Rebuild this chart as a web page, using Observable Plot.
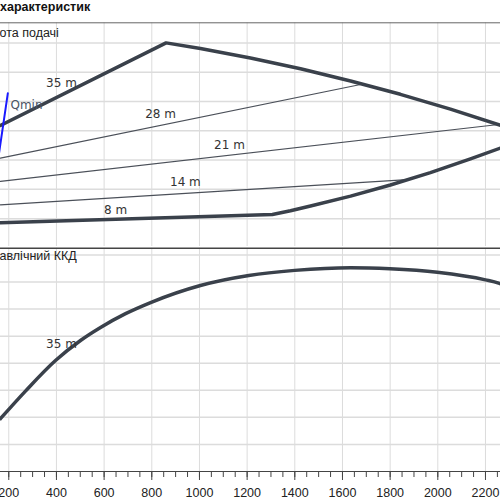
<!DOCTYPE html>
<html>
<head>
<meta charset="utf-8">
<script src="https://cdn.jsdelivr.net/npm/d3@7"></script>
<script src="https://cdn.jsdelivr.net/npm/@observablehq/plot@0.6"></script>
<style>
  body { margin: 0; background: #fff; width: 500px; height: 500px; overflow: hidden; }
  #title { height: 20px; line-height: 17px; font: bold 12.5px "Liberation Sans", Arial, sans-serif; color: #111; white-space: nowrap; }
  svg { display: block; }
</style>
</head>
<body>
<div id="title"></div>
<div id="top"></div>
<div id="bottom"></div>
<script>
// ---- data ----
const titleText = "характеристик";
const topPanelLabel = "ота подачі";
const bottomPanelLabel = "авлічний ККД";

const xTickValues = [200, 400, 600, 800, 1000, 1200, 1400, 1600, 1800, 2000, 2200];
const xMinorTicks = [150, 200, 250, 300, 350, 400, 450, 500, 550, 600, 650, 700, 750, 800, 850, 900, 950, 1000,
  1050, 1100, 1150, 1200, 1250, 1300, 1350, 1400, 1450, 1500, 1550, 1600, 1650, 1700, 1750, 1800, 1850, 1900,
  1950, 2000, 2050, 2100, 2150, 2200, 2250];
const topGridValues = [0, 10, 20, 30, 40, 50, 60, 70];
const bottomGridValues = [10, 20, 30, 40, 50, 60, 70, 80];

// upper envelope (35 m edge and top)
const upperFlow = [165, 860, 1004, 1214, 1424, 1634, 1843, 2053, 2263, 2305];
const upperHead = [41.8, 70.0, 68.1, 64.85, 61.15, 57.0, 52.45, 47.4, 41.9, 40.8];
// lower envelope (8 m edge and right curve)
const lowerFlow = [165, 1306, 1382, 1466, 1634, 1801, 1969, 2137, 2263, 2305];
const lowerHead = [8.6, 11.4, 12.7, 14.3, 17.7, 21.5, 25.7, 30.4, 34.1, 35.4];
// thin lines
const line28Flow = [165, 1676];
const line28Head = [30.65, 55.8];
const line21Flow = [165, 2255];
const line21Head = [22.7, 42.15];
const line14Flow = [165, 1872];
const line14Head = [14.74, 23.3];
// Qmin
const qminFlow = [155, 196];
const qminHead = [30.0, 52.8];

// efficiency curve
const effFlow = [165, 270, 396, 501, 585, 690, 795, 1004, 1207, 1400, 1634, 1799, 1998, 2200, 2255, 2290];
const effValue = [19.5, 29.7, 41.0, 48.4, 53.2, 58.3, 62.4, 68.7, 72.4, 74.3, 75.3, 74.9, 73.6, 70.8, 69.6, 68.4];

// curve labels
const topLabelText = ["35 m", "28 m", "21 m", "14 m", "8 m"];
const topLabelFlow = [421, 837, 1126, 941, 648];
const topLabelHead = [56.1, 45.6, 35.0, 22.5, 13.0];
const qminLabel = "Qmin";
const qminLabelFlow = 207, qminLabelHead = 48.6;
const effLabelText = "35 m", effLabelFlow = 421, effLabelValue = 46.9;

// ---- build ----
document.getElementById("title").textContent = titleText;
const zip = (xs, ys) => xs.map((x, i) => ({x, y: ys[i]}));
const xDomain = [165.3, 2263];
const topMax = 76.86, bottomMax = 82.49;
const thick = "#3a414b", thin = "#4b5059", grid = "#dcdcdc";
const labelFont = "DejaVu Sans";

const topPlot = Plot.plot({
  width: 500, height: 226,
  marginTop: 2.3, marginBottom: 0, marginLeft: 0, marginRight: 0,
  x: {domain: xDomain, axis: null, label: null},
  y: {domain: [0.5, topMax], axis: null, label: null},
  style: {fontFamily: labelFont, fontSize: "12px", color: "#333", background: "transparent"},
  marks: [
    Plot.ruleX(xTickValues, {stroke: grid, strokeWidth: 1}),
    Plot.ruleY(topGridValues, {stroke: grid, strokeWidth: 1.5}),
    Plot.ruleY([topMax], {stroke: "#666", strokeWidth: 1}),
    Plot.line(zip(line28Flow, line28Head), {x: "x", y: "y", stroke: thin, strokeWidth: 1.2, clip: true}),
    Plot.line(zip(line21Flow, line21Head), {x: "x", y: "y", stroke: thin, strokeWidth: 1.2, clip: true}),
    Plot.line(zip(line14Flow, line14Head), {x: "x", y: "y", stroke: thin, strokeWidth: 1.2, clip: true}),
    Plot.line(zip(upperFlow, upperHead), {x: "x", y: "y", stroke: thick, strokeWidth: 3.5, clip: true}),
    Plot.line(zip(lowerFlow, lowerHead), {x: "x", y: "y", stroke: thick, strokeWidth: 3.5, clip: true}),
    Plot.line(zip(qminFlow, qminHead), {x: "x", y: "y", stroke: "#1a1aff", strokeWidth: 2, clip: true}),
    Plot.text(topLabelText.map((t, i) => ({t, x: topLabelFlow[i], y: topLabelHead[i]})),
      {x: "x", y: "y", text: "t", fill: "#333", fontSize: 12, fontFamily: labelFont}),
    Plot.text([qminLabel], {x: qminLabelFlow, y: qminLabelHead, text: d => d, textAnchor: "start", fill: "#4a5364", fontSize: 12, fontFamily: labelFont}),
    Plot.text([topPanelLabel], {frameAnchor: "top-left", text: d => d, dx: -1, dy: 5, fill: "#222", fontSize: 12.5, fontFamily: "Liberation Sans"})
  ]
});

const bottomPlot = Plot.plot({
  width: 500, height: 254,
  marginTop: 1.7, marginBottom: 29, marginLeft: 0, marginRight: 0,
  x: {domain: xDomain, axis: null, label: null},
  y: {domain: [0, bottomMax], axis: null, label: null},
  style: {fontFamily: labelFont, fontSize: "12px", color: "#333", background: "transparent"},
  marks: [
    Plot.ruleX(xTickValues, {stroke: grid, strokeWidth: 1}),
    Plot.ruleY(bottomGridValues, {stroke: grid, strokeWidth: 1.5}),
    Plot.ruleY([bottomMax], {stroke: "#444", strokeWidth: 1.5}),
    Plot.axisX(xMinorTicks, {tickSize: 6, tickFormat: () => "", label: null, stroke: "#444"}),
    Plot.axisX(xTickValues, {tickSize: 9, tickPadding: 8, label: null, stroke: "#444", fill: "#222", fontSize: 12.5, fontFamily: "Liberation Sans", tickFormat: d => String(d)}),
    Plot.ruleY([0], {stroke: "#444", strokeWidth: 1.2}),
    Plot.line(zip(effFlow, effValue), {x: "x", y: "y", stroke: thick, strokeWidth: 3.5, curve: "monotone-x", clip: true}),
    Plot.text([effLabelText], {x: effLabelFlow, y: effLabelValue, text: d => d, fill: "#333", fontSize: 12, fontFamily: labelFont}),
    Plot.text([bottomPanelLabel], {frameAnchor: "top-left", text: d => d, dx: -1, dy: 2.5, fill: "#222", fontSize: 12.5, fontFamily: "Liberation Sans"})
  ]
});

document.getElementById("top").append(topPlot);
document.getElementById("bottom").append(bottomPlot);
</script>
</body>
</html>
